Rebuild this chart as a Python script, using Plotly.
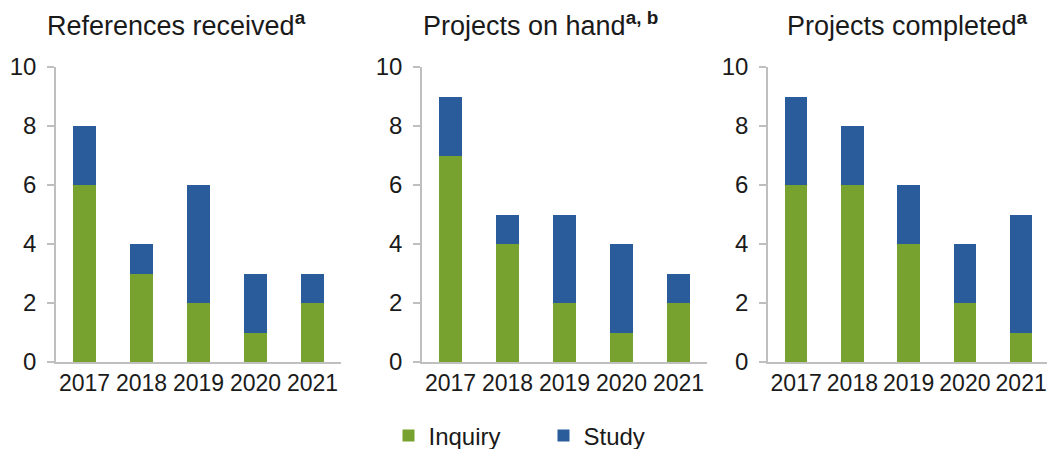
import plotly.graph_objects as go

years = ["2017", "2018", "2019", "2020", "2021"]
panel_titles = [
    "References received<sup><b>a</b></sup>",
    "Projects on hand<sup><b>a, b</b></sup>",
    "Projects completed<sup><b>a</b></sup>",
]
inquiry_received = [6, 3, 2, 1, 2]
study_received = [2, 1, 4, 2, 1]
inquiry_on_hand = [7, 4, 2, 1, 2]
study_on_hand = [2, 1, 3, 3, 1]
inquiry_completed = [6, 6, 4, 2, 1]
study_completed = [3, 2, 2, 2, 4]
y_ticks = [0, 2, 4, 6, 8, 10]

GREEN = "#78A22F"
BLUE = "#2A5C9C"
W = 1047
H = 449

inquiry_sets = [inquiry_received, inquiry_on_hand, inquiry_completed]
study_sets = [study_received, study_on_hand, study_completed]

# layout geometry (pixels)
x_domains = [(56, 341), (422, 707), (768, 1047)]
x_ranges = [[-0.5, 4.5], [-0.5, 4.5], [-0.5, 4.46]]
title_x = [176, 540, 907]
y_dom = [(H - 362) / H, (H - 67) / H]

fig = go.Figure()
for i in range(3):
    xa = "x" if i == 0 else f"x{i+1}"
    ya = "y" if i == 0 else f"y{i+1}"
    fig.add_trace(go.Bar(x=years, y=inquiry_sets[i], name="Inquiry",
                         marker=dict(color=GREEN, line=dict(width=0)),
                         xaxis=xa, yaxis=ya, showlegend=(i == 0),
                         legendgroup="inq"))
    fig.add_trace(go.Bar(x=years, y=study_sets[i], name="Study",
                         marker=dict(color=BLUE, line=dict(width=0)),
                         xaxis=xa, yaxis=ya, showlegend=(i == 0),
                         legendgroup="stu"))

font_family = "Liberation Sans, Arial, sans-serif"
layout = dict(
    width=W, height=H,
    margin=dict(l=0, r=0, t=0, b=0, autoexpand=False),
    barmode="stack",
    bargap=0.6,
    plot_bgcolor="white",
    paper_bgcolor="white",
    font=dict(family=font_family, size=23, color="#1a1a1a"),
    legend=dict(orientation="h", x=0.5 + 20 / W, xanchor="center",
                y=1 - 436 / H, yanchor="middle", font=dict(size=24),
                entrywidth=110, itemwidth=30, traceorder="normal"),
)
annotations = []
for i in range(3):
    sx = "" if i == 0 else str(i + 1)
    layout[f"xaxis{sx}"] = dict(
        domain=[x_domains[i][0] / W, x_domains[i][1] / W],
        anchor=f"y{sx}", range=x_ranges[i], showline=True,
        linecolor="#BFBFBF", linewidth=1.5, ticks="", showgrid=False,
        tickfont=dict(size=23), fixedrange=True,
    )
    layout[f"yaxis{sx}"] = dict(
        domain=y_dom, anchor=f"x{sx}", range=[0, 10], tickvals=y_ticks,
        showline=True, linecolor="#BFBFBF", linewidth=1.5, ticks="outside",
        ticklen=7, tickcolor="#BFBFBF", tickwidth=1.5, showgrid=False,
        zeroline=False, tickfont=dict(size=24), ticklabelstandoff=6,
    )
    annotations.append(dict(
        text=panel_titles[i], x=title_x[i] / W, y=(H - 24) / H,
        xref="paper", yref="paper", xanchor="center", yanchor="middle",
        showarrow=False, font=dict(size=27, color="#1a1a1a"),
    ))
layout["annotations"] = annotations
fig.update_layout(**layout)

fig.write_html("out.html",
               config={"displayModeBar": False},
               post_script="document.body.style.margin='0';"
                           "document.body.style.overflow='hidden';")
